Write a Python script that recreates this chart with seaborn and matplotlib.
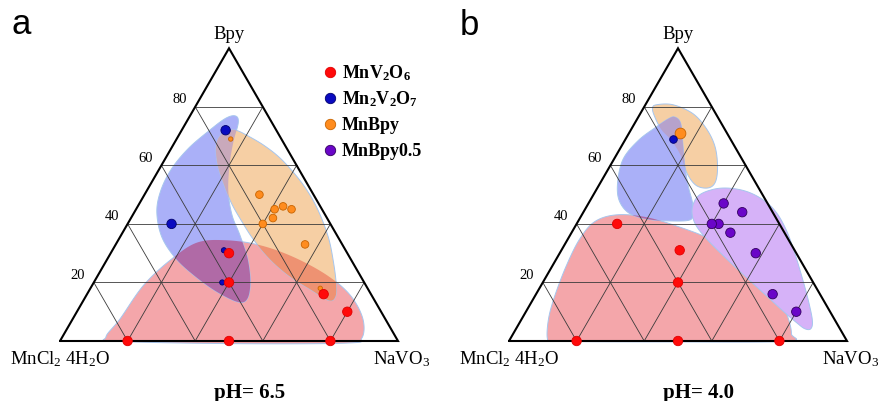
import numpy as np
import pandas as pd
import matplotlib.pyplot as plt
import seaborn as sns
from matplotlib.path import Path
from matplotlib.patches import PathPatch
from matplotlib.lines import Line2D

# --- data: compositions in % (Bpy, NaVO3); MnCl2 is the rest ---
phases = ['MnV2O6', 'Mn2V2O7', 'MnBpy', 'MnBpy0.5']
phase_labels = [r'MnV$_\mathbf{2}$O$_\mathbf{6}$', r'Mn$_\mathbf{2}$V$_\mathbf{2}$O$_\mathbf{7}$',
                'MnBpy', 'MnBpy0.5']
grid_ticks = [20, 40, 60, 80]

# pH = 6.5
a_mnv2o6_bpy = [0, 0, 0, 10, 16, 20, 30]
a_mnv2o6_navo3 = [20, 50, 80, 80, 70, 40, 35]
a_mnv2o6_size = ['l', 'l', 'l', 'l', 'l', 'l', 'l']
a_mn2v2o7_bpy = [72, 40, 31, 20]
a_mn2v2o7_navo3 = [13, 13, 33, 38]
a_mn2v2o7_size = ['l', 'l', 's', 's']
a_mnbpy_bpy = [69, 50, 45, 46, 45, 42, 40, 33, 18]
a_mnbpy_navo3 = [16, 34, 41, 43, 46, 42, 40, 56, 68]
a_mnbpy_size = ['xs', 'm', 'm', 'm', 'm', 'm', 'm', 'm', 'xs']

# pH = 4.0
b_mnv2o6_bpy = [0, 0, 0, 20, 31, 40]
b_mnv2o6_navo3 = [20, 50, 80, 40, 35, 12]
b_mnv2o6_size = ['l', 'l', 'l', 'l', 'l', 'l']
b_mn2v2o7_bpy = [69]
b_mn2v2o7_navo3 = [14]
b_mn2v2o7_size = ['m']
b_mnbpy_bpy = [71]
b_mnbpy_navo3 = [15]
b_mnbpy_size = ['xl']
b_mnbpy05_bpy = [47, 44, 40, 40, 37, 30, 16, 10]
b_mnbpy05_navo3 = [40, 47, 42, 40, 47, 58, 70, 80]
b_mnbpy05_size = ['l'] * 8

# phase field outlines (Bpy, NaVO3) in %
a_red_bpy = [1.4, 7.6, 19.0, 27.6, 33.6, 34.4, 32.7, 28.7, 22.5, 15.6, 7.6, 1.0, -0.7, -0.9, -0.1]
a_red_navo3 = [12.9, 14.0, 15.2, 18.8, 23.7, 32.2, 42.9, 54.7, 67.7, 78.1, 85.8, 88.8, 85.2, 51.8, 16.8]
a_blue_bpy = [76.9, 74.7, 68.0, 60.1, 51.0, 43.0, 36.1, 28.2, 20.2, 14.5, 13.3, 16.8, 22.5, 28.4,
              35.6, 44.1, 51.5, 58.9, 65.8, 71.7, 76.0]
a_blue_navo3 = [13.4, 15.4, 17.3, 20.1, 24.3, 29.4, 35.2, 41.4, 46.2, 48.2, 46.1, 38.0, 28.3, 19.9,
                12.3, 6.6, 4.1, 3.6, 5.1, 8.1, 10.9]
a_orange_bpy = [72.0, 70.1, 66.3, 60.1, 54.4, 47.5, 41.3, 34.4, 27.6, 21.9, 17.6, 13.9, 15.1, 19.6,
                27.0, 35.0, 43.0, 49.8, 56.1, 62.4, 66.9, 70.3, 71.9]
a_orange_navo3 = [14.3, 12.3, 13.0, 16.6, 21.0, 26.8, 32.9, 40.2, 48.6, 57.2, 65.3, 72.5, 73.9, 71.9,
                  67.4, 62.0, 55.5, 49.1, 42.1, 34.0, 26.8, 20.1, 16.4]

b_red_bpy = [0.6, 7.6, 15.6, 25.8, 34.9, 40.8, 43.1, 42.3, 38.9, 34.4, 28.7, 22.4, 15.6, 8.8,
             2.5, -0.1, -0.3, -0.1]
b_red_navo3 = [11.1, 7.9, 5.8, 4.1, 3.5, 5.0, 10.3, 19.5, 31.1, 43.2, 53.9, 63.5, 71.5, 77.9,
               82.3, 82.1, 48.7, 13.7]
b_blue_bpy = [76.5, 74.5, 68.5, 60.0, 52.6, 47.2, 43.1, 41.3, 41.0, 41.5, 43.5, 48.0, 54.3, 62.2,
              68.5, 73.0, 75.9]
b_blue_navo3 = [10.8, 13.5, 17.1, 22.0, 26.8, 30.7, 32.9, 32.7, 28.1, 20.9, 14.0, 8.6, 5.0, 2.7,
                4.0, 6.9, 9.2]
b_orange_bpy = [80.7, 80.7, 77.6, 72.2, 66.2, 59.4, 54.3, 52.3, 53.1, 57.1, 63.4, 68.5, 72.2, 76.5, 79.5]
b_orange_navo3 = [3.3, 8.2, 15.7, 22.5, 27.9, 32.0, 33.9, 32.8, 28.9, 24.2, 19.1, 13.8, 9.0, 4.9, 2.7]
b_purple_bpy = [44.9, 49.5, 51.8, 52.2, 50.9, 47.8, 43.5, 37.2, 29.8, 21.8, 13.9, 7.1, 4.2, 4.2,
                6.3, 10.2, 15.4, 21.5, 28.3, 34.9, 40.0]
b_purple_navo3 = [31.7, 31.2, 34.5, 39.2, 45.3, 51.8, 57.6, 63.7, 69.7, 75.8, 81.6, 86.2, 87.2, 85.4,
                  81.9, 76.0, 68.5, 59.7, 50.0, 41.0, 35.1]

# --- styles ---
point_colors = {'MnV2O6': '#ff0a0a', 'Mn2V2O7': '#0a0ac0', 'MnBpy': '#ff8c1e', 'MnBpy0.5': '#6a06c8'}
edge_colors = {'MnV2O6': '#e00000', 'Mn2V2O7': '#00006e', 'MnBpy': '#c86400', 'MnBpy0.5': '#33005f'}
size_map = {'xl': 60, 'l': 46, 'm': 30, 's': 14, 'xs': 10}
H = np.sqrt(3) / 2


def to_xy(bpy, navo3):
    b = np.asarray(bpy, float) / 100
    v = np.asarray(navo3, float) / 100
    return v + b / 2, b * H


def smooth_closed(bpy, navo3, n=24):
    # closed Catmull-Rom curve through the outline points
    x, y = to_xy(bpy, navo3)
    P = np.column_stack([x, y])
    N = len(P)
    t = np.linspace(0, 1, n, endpoint=False)[:, None]
    out = []
    for i in range(N):
        p0, p1, p2, p3 = P[i - 1], P[i], P[(i + 1) % N], P[(i + 2) % N]
        out.append(0.5 * (2 * p1 + (-p0 + p2) * t + (2 * p0 - 5 * p1 + 4 * p2 - p3) * t ** 2
                          + (-p0 + 3 * p1 - 3 * p2 + p3) * t ** 3))
    pts = np.vstack(out)
    return Path(np.vstack([pts, pts[:1]]), closed=True)


def make_df(groups):
    rows = []
    for phase, bpy, navo3, size in groups:
        x, y = to_xy(bpy, navo3)
        for xi, yi, si in zip(x, y, size):
            rows.append({'phase': phase, 'x': xi, 'y': yi, 'size': si})
    return pd.DataFrame(rows)


sns.set_style('white')
plt.rcParams['font.family'] = ['Liberation Serif', 'DejaVu Serif']
plt.rcParams['text.color'] = 'black'
plt.rcParams['mathtext.fontset'] = 'custom'
plt.rcParams['mathtext.rm'] = 'Liberation Serif'
plt.rcParams['mathtext.it'] = 'Liberation Serif:italic'
plt.rcParams['mathtext.bf'] = 'Liberation Serif:bold'

fig = plt.figure(figsize=(8.8, 4.02), dpi=100)
S = 338.0  # pixels per triangle side
ax_a = fig.add_axes([0, 0, 0.5, 1])
ax_b = fig.add_axes([0.5, 0, 0.5, 1])
ax_a.set_xlim(-60 / S, 380 / S)
ax_b.set_xlim(-69 / S, 371 / S)
for ax in (ax_a, ax_b):
    ax.set_ylim(-60 / S, 342 / S)
    ax.set_axis_off()

panels = [
    (ax_a, 'pH= 6.5',
     [('red', '#f4a6aa', a_red_bpy, a_red_navo3),
      ('blue', '#aab0f8', a_blue_bpy, a_blue_navo3),
      ('orange', '#f6cfa4', a_orange_bpy, a_orange_navo3)],
     [('red', 'blue', '#b06aa6'), ('red', 'orange', '#ee9272'), ('blue', 'orange', '#c9a9bb')],
     [('MnBpy', a_mnbpy_bpy, a_mnbpy_navo3, a_mnbpy_size),
      ('Mn2V2O7', a_mn2v2o7_bpy, a_mn2v2o7_navo3, a_mn2v2o7_size),
      ('MnV2O6', a_mnv2o6_bpy, a_mnv2o6_navo3, a_mnv2o6_size)]),
    (ax_b, 'pH= 4.0',
     [('red', '#f4a6aa', b_red_bpy, b_red_navo3),
      ('orange', '#f6cfa4', b_orange_bpy, b_orange_navo3),
      ('blue', '#aab0f8', b_blue_bpy, b_blue_navo3),
      ('purple', '#d6b2f8', b_purple_bpy, b_purple_navo3)],
     [('orange', 'blue', '#b6a2cc'), ('red', 'blue', '#b06aa6')],
     [('MnBpy', b_mnbpy_bpy, b_mnbpy_navo3, b_mnbpy_size),
      ('Mn2V2O7', b_mn2v2o7_bpy, b_mn2v2o7_navo3, b_mn2v2o7_size),
      ('MnV2O6', b_mnv2o6_bpy, b_mnv2o6_navo3, b_mnv2o6_size),
      ('MnBpy0.5', b_mnbpy05_bpy, b_mnbpy05_navo3, b_mnbpy05_size)]),
]

for ax, ph, regions, overlaps, groups in panels:
    # phase fields
    patches = {}
    paths = {}
    for name, col, rb, rv in regions:
        path = smooth_closed(rb, rv)
        p = PathPatch(path, facecolor=col, edgecolor='#a6c6ee', lw=0.7, zorder=1)
        ax.add_patch(p)
        patches[name] = p
        paths[name] = path
    for below, above, col in overlaps:
        o = PathPatch(paths[above], facecolor=col, edgecolor='none', zorder=1.5)
        ax.add_patch(o)
        o.set_clip_path(patches[below])

    # grid
    for t in grid_ticks:
        k = t / 100
        ax.plot([k / 2, 1 - k / 2], [k * H, k * H], color='#3a3a3a', lw=0.6, zorder=2)
        ax.plot([k, k + (1 - k) / 2], [0, (1 - k) * H], color='#3a3a3a', lw=0.6, zorder=2)
        ax.plot([1 - k, (1 - k) / 2], [0, (1 - k) * H], color='#3a3a3a', lw=0.6, zorder=2)
        ax.text(k / 2 - 0.047, k * H + 0.024, str(t), ha='center', va='center',
                fontsize=10.5, zorder=5)
    ax.plot([0, 1, 0.5, 0], [0, 0, H, 0], color='black', lw=1.5, zorder=3,
            solid_joinstyle='miter')

    # points
    df = make_df(groups)
    for phase in df['phase'].unique():
        sub = df[df['phase'] == phase]
        sns.scatterplot(data=sub, x='x', y='y', ax=ax, color=point_colors[phase],
                        s=sub['size'].map(size_map).values, edgecolor=edge_colors[phase],
                        linewidth=0.6, legend=False, zorder=4)
    ax.set_xlabel('')
    ax.set_ylabel('')
    ax.set_axis_off()

    # labels
    ax.text(0.5, H + 0.030, 'Bpy', ha='center', va='baseline', fontsize=13.5)
    ax.text(0.0, -0.066, r'MnCl$_2$ 4H$_2$O', ha='center', va='baseline', fontsize=13.5)
    ax.text(1.01, -0.066, r'NaVO$_3$', ha='center', va='baseline', fontsize=13.5)
    ax.text(0.56, -0.166, ph, ha='center', va='baseline', fontsize=15, fontweight='bold')

fig.text(11 / 880, 1 - 34 / 402, 'a', fontsize=25, family='Liberation Sans', va='baseline')
fig.text(460 / 880, 1 - 35 / 402, 'b', fontsize=25, family='Liberation Sans', va='baseline')

# legend, rows at fixed pitch
for i, (p, lab) in enumerate(zip(phases, phase_labels)):
    yy = 1 - (72.5 + 26 * i) / 402
    fig.add_artist(Line2D([330 / 880], [yy], marker='o', ls='', markersize=7.5,
                          markerfacecolor=point_colors[p], markeredgecolor=edge_colors[p],
                          markeredgewidth=0.6, transform=fig.transFigure))
    fig.text(341.5 / 880, yy - 6 / 402, lab, ha='left', va='baseline', fontsize=13,
             fontweight='bold')

fig.savefig('out.png', dpi=100)
